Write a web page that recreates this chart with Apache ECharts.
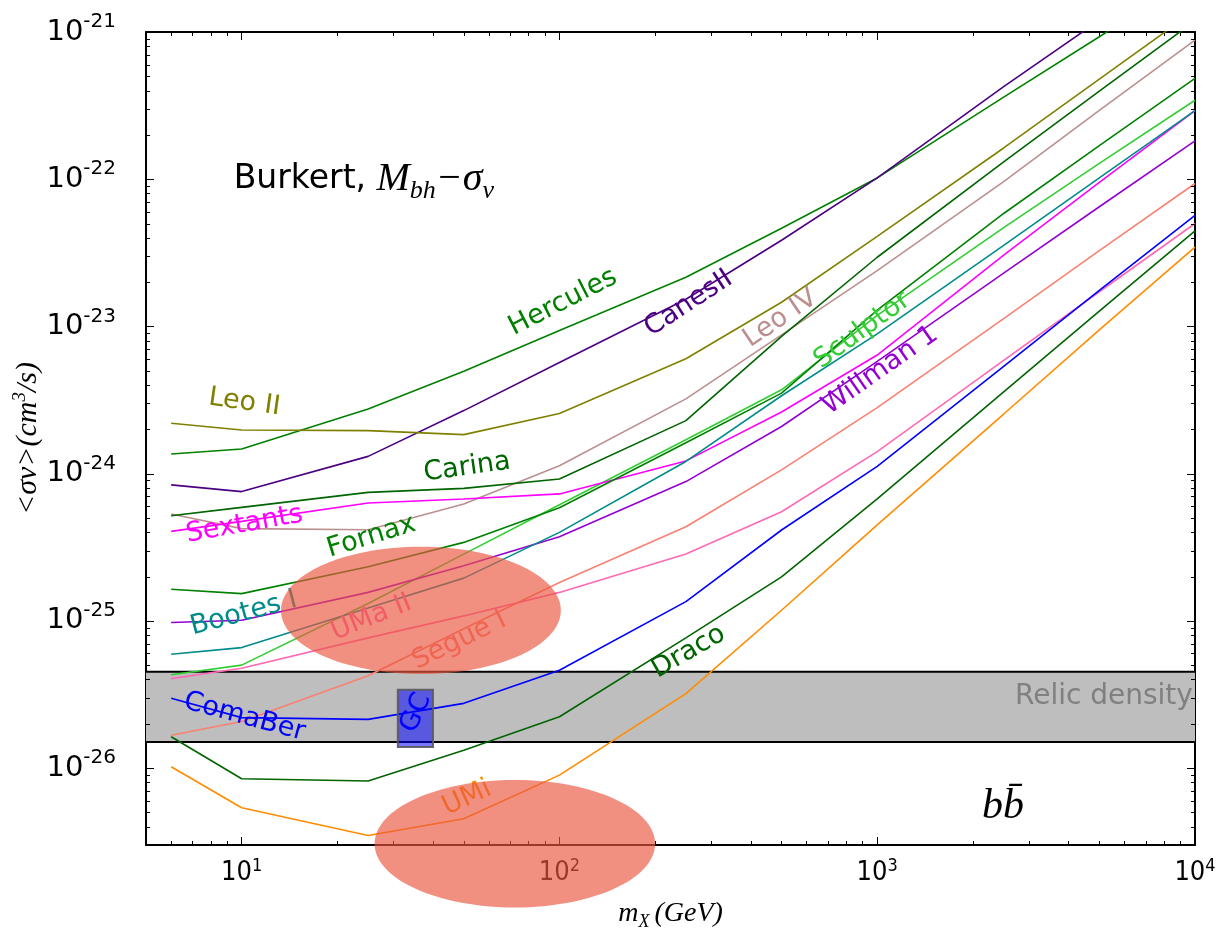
<!DOCTYPE html>
<html><head><meta charset="utf-8">
<script src="https://cdn.jsdelivr.net/npm/echarts@6/dist/echarts.min.js"></script>
<style>html,body{margin:0;padding:0;background:#fff}#chart{width:1217px;height:930px}</style>
</head><body><div id="chart"></div>
<script>
// ---- data (mass in GeV, <sigma v> in cm^3/s) ----
const massGeV   = [6, 10, 25, 50, 100, 250, 500, 1000, 2500, 5000, 10000];
const hercules  = [1.36e-24, 1.47e-24, 2.75e-24, 4.96e-24, 9.39e-24, 2.16e-23, 4.64e-23, 1.02e-22, 3.61e-22, 9.29e-22, 2.39e-21];
const canesII   = [8.38e-25, 7.55e-25, 1.31e-24, 2.68e-24, 5.69e-24, 1.53e-23, 3.85e-23, 1.02e-22, 4.26e-22, 1.20e-21, 3.32e-21];
const leoIV     = [5.32e-25, 4.23e-25, 4.16e-25, 6.22e-25, 1.13e-24, 3.22e-24, 8.75e-24, 2.39e-23, 9.64e-23, 2.93e-22, 8.82e-22];
const sculptor  = [4.30e-26, 5.00e-26, 1.31e-25, 2.84e-25, 6.15e-25, 1.70e-24, 3.71e-24, 1.19e-23, 4.69e-23, 1.28e-22, 3.44e-22];
const willman1  = [9.73e-26, 1.01e-25, 1.56e-25, 2.37e-25, 3.72e-25, 8.83e-25, 2.09e-24, 5.78e-24, 2.30e-23, 6.50e-23, 1.82e-22];
const leoII     = [2.20e-24, 1.98e-24, 1.96e-24, 1.84e-24, 2.56e-24, 6.03e-24, 1.46e-23, 4.09e-23, 1.63e-22, 4.79e-22, 1.40e-21];
const carina    = [5.18e-25, 5.90e-25, 7.46e-25, 7.94e-25, 9.20e-25, 2.29e-24, 8.55e-24, 2.95e-23, 1.31e-22, 3.97e-22, 1.19e-21];
const sextants  = [4.05e-25, 4.74e-25, 6.32e-25, 6.73e-25, 7.28e-25, 1.22e-24, 2.62e-24, 6.39e-24, 3.05e-23, 9.50e-23, 2.92e-22];
const fornax    = [1.64e-25, 1.53e-25, 2.33e-25, 3.41e-25, 5.87e-25, 1.62e-24, 3.52e-24, 1.29e-23, 5.85e-23, 1.69e-22, 4.84e-22];
const bootesI   = [5.93e-26, 6.58e-26, 1.22e-25, 1.95e-25, 3.99e-25, 1.21e-24, 3.38e-24, 8.89e-24, 3.55e-23, 1.02e-22, 2.92e-22];
const umaII     = [4.05e-26, 4.76e-26, 7.66e-26, 1.08e-25, 1.56e-25, 2.84e-25, 5.51e-25, 1.41e-24, 5.87e-24, 1.72e-23, 5.00e-23];
const segueI    = [1.67e-26, 2.07e-26, 4.23e-26, 8.83e-26, 1.82e-25, 4.36e-25, 1.06e-24, 2.81e-24, 1.13e-23, 3.27e-23, 9.35e-23];
const comaBer   = [2.98e-26, 2.20e-26, 2.14e-26, 2.75e-26, 4.62e-26, 1.35e-25, 4.14e-25, 1.12e-24, 5.36e-24, 1.76e-23, 5.69e-23];
const draco     = [1.63e-26, 8.45e-27, 8.17e-27, 1.32e-26, 2.23e-26, 7.66e-26, 1.99e-25, 6.73e-25, 3.59e-24, 1.27e-23, 4.45e-23];
const umi       = [1.02e-26, 5.37e-27, 3.48e-27, 4.52e-27, 8.95e-27, 3.20e-26, 1.18e-25, 4.48e-25, 2.54e-24, 9.46e-24, 3.46e-23];

const seriesNames = ['Hercules','CanesII','Leo IV','Sculptor','Willman 1','Leo II','Carina','Sextants','Fornax','Bootes I','UMa II','Segue I','ComaBer','Draco','UMi'];
const seriesValues = [hercules, canesII, leoIV, sculptor, willman1, leoII, carina, sextants, fornax, bootesI, umaII, segueI, comaBer, draco, umi];

// relic density band [low, high]
const relicBand = [1.5e-26, 4.5e-26];
// GC box: [mass low, mass high, sigma low, sigma high]
const gcBox = [31, 40, 1.39e-26, 3.4e-26];
// ellipses (bounding boxes): [mass low, mass high, sigma low, sigma high]
const ellipseUMaII = [13.3, 101, 4.36e-26, 3.18e-25];
const ellipseUMi   = [26.2, 200, 1.13e-27, 8.3e-27];

const xRange = [5, 10000];
const yRange = [3e-27, 1e-21];
const xMajorTicks = [10, 100, 1000, 10000];
const xMinorTicks = [6,7,8,9,20,30,40,50,60,70,80,90,200,300,400,500,600,700,800,900,2000,3000,4000,5000,6000,7000,8000,9000];
const yMajorTicks = [1e-26, 1e-25, 1e-24, 1e-23, 1e-22, 1e-21];
const yMajorExponents = ['-26', '-25', '-24', '-23', '-22', '-21'];
const yMinorTicks = [4e-27,5e-27,6e-27,7e-27,8e-27,9e-27,
  2e-26,3e-26,4e-26,5e-26,6e-26,7e-26,8e-26,9e-26,
  2e-25,3e-25,4e-25,5e-25,6e-25,7e-25,8e-25,9e-25,
  2e-24,3e-24,4e-24,5e-24,6e-24,7e-24,8e-24,9e-24,
  2e-23,3e-23,4e-23,5e-23,6e-23,7e-23,8e-23,9e-23,
  2e-22,3e-22,4e-22,5e-22,6e-22,7e-22,8e-22,9e-22];

// text annotations anchored in data space: [text, mass, sigma, angle(deg)]
const labelAnchors = [
  ['Hercules', 102.6, 1.46e-23, 27],
  ['CanesII', 255, 1.43e-23, 33],
  ['Leo IV', 496, 1.13e-23, 34],
  ['Sculptor', 898, 9.4e-24, 36],
  ['Willman 1', 1022, 5.02e-24, 35],
  ['Leo II', 10.2, 3.04e-24, -8],
  ['Carina', 51.2, 1.10e-24, 8],
  ['Sextants', 10.2, 4.5e-25, 10],
  ['Fornax', 25.6, 3.73e-25, 17],
  ['Bootes I', 10.15, 1.12e-25, 15],
  ['UMa II', 25.6, 1.05e-25, 22],
  ['Segue I', 48.4, 7.31e-26, 26],
  ['ComaBer', 10.2, 2.22e-26, -15],
  ['Draco', 255, 6.15e-26, 30],
  ['UMi', 51.2, 6.25e-27, 25]
];
const gcLabel = ['GC', 35.4, 2.37e-26, 66];
const relicLabel = ['Relic density', 9850, 3.04e-26];
const channelLabel = ['b', 2487, 5.43e-27];
const titleAnchor = [9.44, 1e-22];

const colors = {
  'Hercules':'#008000','CanesII':'#4B0082','Leo IV':'#BC8F8F','Sculptor':'#32CD32','Willman 1':'#9400D3',
  'Leo II':'#808000','Carina':'#006400','Sextants':'#FF00FF','Fornax':'#008000','Bootes I':'#008B8B',
  'UMa II':'#FF69B4','Segue I':'#FA8072','ComaBer':'#0000FF','Draco':'#006400','UMi':'#FF8C00'
};

const chart = echarts.init(document.getElementById('chart'), null, {renderer:'canvas'});

const sans = "'DejaVu Sans', sans-serif";
const serif = "'Liberation Serif', 'DejaVu Serif', serif";
const narrow = "'DejaVu Sans Condensed','Liberation Sans Narrow','DejaVu Sans'";

function xAx(pos, major) {
  return {
    type:'log', logBase:10, min:xRange[0], max:xRange[1], position:pos, gridIndex:0,
    axisLine:{show:major, onZero:false, lineStyle:{color:'#000', width:2}},
    axisTick:{show:true, inside:true, length: major?8:4, customValues: major?xMajorTicks:xMinorTicks, lineStyle:{color:'#000', width:1}},
    axisLabel:{show: major && pos==='bottom', customValues:xMajorTicks, margin:12,
      formatter: v => '{b|10}{s|' + Math.round(Math.log10(v)) + '}',
      rich:{ b:{fontFamily:narrow, fontSize:27, color:'#000', lineHeight:32, verticalAlign:'middle'},
             s:{fontFamily:narrow, fontSize:18, color:'#000', lineHeight:16, verticalAlign:'top'} }},
    splitLine:{show:false}, minorTick:{show:false}
  };
}
function yAx(pos) {
  return {
    type:'log', logBase:10, min:yRange[0], max:yRange[1], position:pos, gridIndex:0,
    axisLine:{show:true, onZero:false, lineStyle:{color:'#000', width:2}},
    axisTick:{show:false}, axisLabel:{show:false},
    splitLine:{show:false}, minorTick:{show:false}
  };
}

const xAxes = [xAx('bottom', true), xAx('bottom', false), xAx('top', true), xAx('top', false)];
xAxes[0].name = '{i|m}{s|X}{i|(GeV)}';
xAxes[0].nameLocation = 'middle';
xAxes[0].nameGap = 52;
xAxes[0].nameTextStyle = {rich:{
  i:{fontFamily:serif, fontStyle:'italic', fontSize:28, color:'#000', lineHeight:34, verticalAlign:'middle'},
  s:{fontFamily:serif, fontStyle:'italic', fontSize:18, color:'#000', lineHeight:22, verticalAlign:'bottom', padding:[0,5,0,0]}}};
const yAxes = [yAx('left'), yAx('right')];
yAxes[0].name = '{i|<σv>(cm}{s|3}{i|/s)}';
yAxes[0].nameLocation = 'middle';
yAxes[0].nameGap = 100;
yAxes[0].nameRotate = 90;
yAxes[0].nameTextStyle = {rich:{
  i:{fontFamily:serif, fontStyle:'italic', fontSize:30, color:'#000', lineHeight:36, verticalAlign:'middle'},
  s:{fontFamily:serif, fontStyle:'italic', fontSize:19, color:'#000', lineHeight:19, verticalAlign:'top'}}};

const lineSeries = seriesNames.map((name, k) => ({
  name, type:'line', xAxisIndex:0, yAxisIndex:0, z:2,
  data: massGeV.map((m, i) => [m, seriesValues[k][i]]),
  showSymbol:false, symbol:'none', silent:true, clip:true,
  lineStyle:{color:colors[name], width:1.6}, itemStyle:{color:colors[name]}
}));

// y-axis ticks (left and right) and labels, placed through the y scale
const yTickSeries = {
  type:'custom', z:5, silent:true, clip:false,
  data: yMajorTicks.map((v, i) => [xRange[0], v, 1, i]).concat(yMinorTicks.map(v => [xRange[0], v, 0, -1])),
  renderItem(params, api) {
    const cs = params.coordSys;
    const p = api.coord([api.value(0), api.value(1)]);
    const major = api.value(2) === 1;
    const len = major ? 8 : 4;
    const y = Math.round(p[1]) + 0.5;
    const children = [
      {type:'line', shape:{x1:cs.x, y1:y, x2:cs.x + len, y2:y}, style:{stroke:'#000', lineWidth:1}},
      {type:'line', shape:{x1:cs.x + cs.width, y1:y, x2:cs.x + cs.width - len, y2:y}, style:{stroke:'#000', lineWidth:1}}
    ];
    if (major) {
      children.push({type:'text', x:cs.x - 30, y:p[1], style:{
        text:'{b|10}{s|' + yMajorExponents[api.value(3)] + '}', align:'right', verticalAlign:'middle',
        rich:{ b:{fontFamily:sans, fontSize:29, fill:'#000', lineHeight:40, verticalAlign:'middle'},
               s:{fontFamily:sans, fontSize:20, fill:'#000', lineHeight:20, verticalAlign:'top'} }}});
    }
    return {type:'group', children};
  }
};

const bandSeries = {
  type:'custom', z:1, silent:true, clip:false,
  data:[[xRange[0], relicBand[0], xRange[1], relicBand[1]]],
  encode:{x:[0,2], y:[1,3]},
  renderItem(params, api) {
    const p0 = api.coord([api.value(0), api.value(1)]);
    const p1 = api.coord([api.value(2), api.value(3)]);
    return {type:'group', children:[
      {type:'rect', shape:{x:p0[0], y:p1[1], width:p1[0]-p0[0], height:p0[1]-p1[1]}, style:{fill:'#BEBEBE'}},
      {type:'line', shape:{x1:p0[0], y1:p1[1], x2:p1[0], y2:p1[1]}, style:{stroke:'#000', lineWidth:2}},
      {type:'line', shape:{x1:p0[0], y1:p0[1], x2:p1[0], y2:p0[1]}, style:{stroke:'#000', lineWidth:2}}
    ]};
  }
};

const gcSeries = {
  type:'custom', z:4, silent:true, clip:false,
  data:[[gcBox[0], gcBox[2], gcBox[1], gcBox[3]]],
  encode:{x:[0,2], y:[1,3]},
  renderItem(params, api) {
    const p0 = api.coord([api.value(0), api.value(1)]);
    const p1 = api.coord([api.value(2), api.value(3)]);
    const c = api.coord([gcLabel[1], gcLabel[2]]);
    return {type:'group', children:[
      {type:'rect', shape:{x:p0[0], y:p1[1], width:p1[0]-p0[0], height:p0[1]-p1[1]},
        style:{fill:'rgba(0,0,255,0.53)', stroke:'rgba(90,90,90,0.9)', lineWidth:2}},
      {type:'text', x:c[0], y:c[1], rotation:gcLabel[3]*Math.PI/180,
        style:{text:gcLabel[0], fill:'#0000FF', font:"27px 'DejaVu Sans'", align:'center', verticalAlign:'middle'}}
    ]};
  }
};

const labelSeries = {
  type:'custom', z:3, silent:true, clip:false,
  data: labelAnchors.map(a => [a[1], a[2]]),
  renderItem(params, api) {
    const a = labelAnchors[params.dataIndex];
    const p = api.coord([api.value(0), api.value(1)]);
    return {type:'text', x:p[0], y:p[1], rotation:a[3]*Math.PI/180,
      style:{text:a[0], fill:colors[a[0]], font:"27px 'DejaVu Sans'", align:'center', verticalAlign:'middle'}};
  }
};

const annotSeries = {
  type:'custom', z:3, silent:true, clip:false,
  data:[[relicLabel[1], relicLabel[2]], [channelLabel[1], channelLabel[2]], [titleAnchor[0], titleAnchor[1]]],
  renderItem(params, api) {
    const p = api.coord([api.value(0), api.value(1)]);
    if (params.dataIndex === 0) {
      return {type:'text', x:p[0], y:p[1], style:{text:relicLabel[0], fill:'#808080', font:"28px 'DejaVu Sans'", align:'right', verticalAlign:'middle'}};
    }
    if (params.dataIndex === 1) {
      return {type:'text', x:p[0], y:p[1], style:{text:'b' + channelLabel[0] + '\u0304', fill:'#000', font:"italic 42px 'Liberation Serif'", align:'center', verticalAlign:'middle'}};
    }
    return {type:'text', x:p[0], y:p[1], style:{
      text:'{a|Burkert, }{m|M}{s|bh}{m|\u2212σ}{s|v}', align:'left', verticalAlign:'middle',
      rich:{
        a:{fontFamily:sans, fontSize:33, fill:'#000', lineHeight:50, verticalAlign:'middle'},
        m:{fontFamily:serif, fontStyle:'italic', fontSize:40, fill:'#000', lineHeight:50, verticalAlign:'middle'},
        s:{fontFamily:serif, fontStyle:'italic', fontSize:26, fill:'#000', lineHeight:26, verticalAlign:'bottom'}
      }}};
  }
};

function ellipseSeries(box) {
  return {
    type:'custom', z:6, silent:true, clip:false,
    data:[[box[0], box[2], box[1], box[3]]],
    encode:{x:[0,2], y:[1,3]},
    renderItem(params, api) {
      const p0 = api.coord([api.value(0), api.value(1)]);
      const p1 = api.coord([api.value(2), api.value(3)]);
      return {type:'ellipse', shape:{cx:(p0[0]+p1[0])/2, cy:(p0[1]+p1[1])/2, rx:Math.abs(p1[0]-p0[0])/2, ry:Math.abs(p0[1]-p1[1])/2},
        style:{fill:'rgba(234,87,63,0.66)'}};
    }
  };
}

chart.setOption({
  backgroundColor:'#fff',
  animation:false,
  grid:{left:146, right:22, top:32, bottom:85, containLabel:false, outerBoundsMode:'none'},
  xAxis:xAxes,
  yAxis:yAxes,
  series:[bandSeries, ...lineSeries, labelSeries, annotSeries, gcSeries, yTickSeries, ellipseSeries(ellipseUMaII), ellipseSeries(ellipseUMi)]
});
</script></body></html>
